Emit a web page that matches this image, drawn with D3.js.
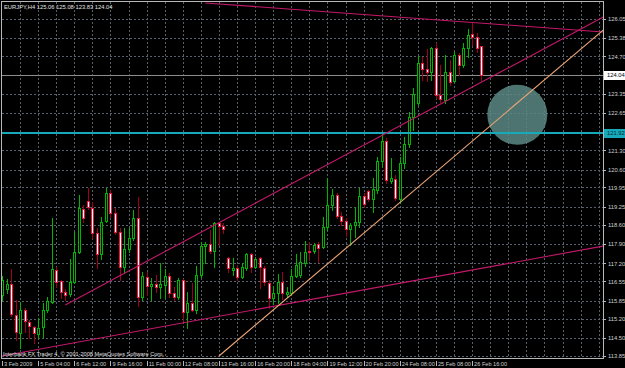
<!DOCTYPE html>
<html>
<head>
<meta charset="utf-8">
<script src="https://cdn.jsdelivr.net/npm/d3@7"></script>
<style>
  html, body { margin: 0; padding: 0; background: #000; }
  svg { display: block; font-family: "Liberation Sans", Arial, sans-serif; }
</style>
</head>
<body>
<svg id="chart"></svg>
<script>
const symbol = "EURJPY,H4";
const copyright = "Interbank FX Trader 4, \u00a9 2001-2008 MetaQuotes Software Corp.";

// H4 bars, oldest first
const opens = [116.06,116.28,116.46,115.34,114.69,115.52,115.08,114.90,114.65,114.90,
  115.52,115.81,116.97,116.57,116.17,116.10,116.53,117.62,119.17,119.46,
  119.21,118.31,117.55,118.74,119.75,119.03,118.34,117.07,117.73,118.12,
  118.85,115.99,116.71,116.39,116.46,116.35,116.42,116.75,116.13,115.99,
  116.60,115.45,115.77,115.52,116.79,117.83,117.91,117.65,118.67,118.56,
  117.40,116.97,117.04,116.71,117.04,117.55,117.07,117.40,117.04,116.50,
  115.95,116.13,116.53,116.10,116.13,116.75,116.79,117.22,117.65,117.65,
  117.91,117.80,118.52,119.32,119.68,118.92,118.74,118.45,118.60,118.70,
  119.65,119.83,119.54,119.86,120.91,121.64,120.19,120.26,119.54,120.84,
  121.53,122.50,123.01,124.46,124.24,124.13,125.00,123.30,123.12,124.13,
  123.81,124.75,124.39,125.00,125.51,125.40,125.06];
const highs = [116.75,116.64,117.00,115.88,115.81,115.59,115.16,114.94,115.23,115.77,
  115.99,118.85,117.07,116.60,116.28,117.36,118.34,119.68,119.32,119.93,
  119.43,118.49,118.89,119.93,119.86,119.21,118.49,118.49,118.49,119.14,
  119.61,116.89,116.89,116.68,116.79,117.22,117.00,116.86,116.35,116.68,
  116.64,116.17,116.50,117.11,117.98,117.98,118.41,118.70,118.70,118.67,
  117.44,117.40,117.15,117.22,117.58,117.58,117.44,117.44,117.11,116.60,
  116.39,116.82,116.89,116.35,117.00,117.55,117.62,118.02,117.98,117.94,
  117.98,118.89,120.30,119.90,119.75,119.07,118.85,118.67,119.25,119.93,
  119.75,119.86,120.30,121.06,121.92,121.74,121.02,120.41,121.06,121.78,
  122.69,123.55,124.71,124.68,124.97,125.04,125.18,124.39,124.75,124.57,
  124.86,124.82,125.18,125.69,125.94,125.55,125.08];
const lows = [115.88,116.13,115.30,114.43,114.14,114.72,114.50,114.32,114.50,114.54,
  115.45,115.77,116.35,115.95,115.88,116.02,116.50,117.58,118.70,119.17,
  118.12,117.04,117.36,118.70,118.89,118.27,116.60,116.89,117.62,118.05,
  115.66,115.88,116.06,115.88,116.17,115.95,115.95,115.99,115.88,115.92,
  115.12,114.87,115.48,115.41,116.71,117.22,117.58,117.07,117.87,118.31,
  116.89,116.79,116.60,116.68,116.97,116.89,117.04,116.31,116.42,115.59,
  115.74,115.77,115.92,115.99,116.06,116.71,116.71,117.11,117.33,117.58,
  117.26,117.76,118.41,119.14,118.85,118.60,118.20,117.87,118.16,118.52,
  119.25,119.46,119.07,119.75,120.69,120.12,120.12,119.50,119.39,120.66,
  121.42,122.03,122.94,123.84,123.81,123.84,123.19,123.05,123.01,123.66,
  123.77,124.02,124.31,124.68,125.11,124.86,123.83];
const closes = [116.60,116.46,115.37,114.72,115.52,115.12,114.94,114.69,114.87,115.52,
  115.84,117.00,116.53,116.17,116.06,116.53,117.62,119.21,118.85,119.25,
  118.31,117.55,118.70,119.75,119.03,118.34,117.07,117.73,118.12,118.85,
  115.99,116.75,116.39,116.46,116.35,116.46,116.75,116.13,115.99,116.60,
  115.45,115.77,115.52,116.79,117.83,117.91,117.65,118.67,118.56,118.45,
  117.04,117.04,116.71,117.07,117.55,117.07,117.36,117.07,116.53,115.95,
  116.13,116.53,116.13,116.17,116.75,117.15,117.26,117.62,117.62,117.87,
  117.76,118.52,119.32,119.68,118.92,118.74,118.45,118.60,118.70,119.65,
  119.36,119.54,119.90,120.91,121.64,120.22,120.30,119.57,120.84,121.53,
  122.50,123.34,124.46,124.24,124.13,125.00,123.30,123.16,124.13,123.77,
  124.75,124.39,125.00,125.47,125.40,125.00,124.04];

// time axis labels and the bar each one sits on
const timeLabels = ["3 Feb 2009","5 Feb 04:00","6 Feb 12:00","9 Feb 16:00","11 Feb 00:00",
  "12 Feb 08:00","13 Feb 16:00","16 Feb 20:00","18 Feb 04:00","19 Feb 12:00",
  "20 Feb 20:00","24 Feb 08:00","25 Feb 08:00","26 Feb 16:00"];
const timeLabelBars = [0,8,16,24,32,40,48,56,64,72,80,88,96,104];

const priceTicks = [126.05,125.38,124.70,123.35,122.65,121.30,120.60,119.95,119.25,
  118.60,117.90,117.20,116.55,115.85,115.20,114.50,113.85];

const bidPrice = 124.04;
const levelPrice = 121.92;

// trend lines as [bar, price] anchor pairs
const channelTop = [[45, 126.63], [133, 125.58]];
const channelUpper = [[14, 115.70], [133, 126.12]];
const channelLower = [[0, 113.85], [133, 117.83]];
const supportLine = [[48, 113.85], [133, 125.65]];
const ellipseCenter = [114, 122.58];

const layout = {
  width: 625, height: 368,
  left: 2, right: 603, top: 2, bottom: 358,
  lastBar: 133,
  barUp: "#00b400", barDown: "#e8183c", wickDown: "#a0001e",
  level: "#17a9ba",
};

const bars = opens.map((o, i) => ({ i, o, h: highs[i], l: lows[i], c: closes[i] }));

const svg = d3.select("#chart").attr("width", layout.width).attr("height", layout.height);
svg.append("rect").attr("width", layout.width).attr("height", layout.height).attr("fill", "#000");

const x = d3.scaleLinear().domain([0, layout.lastBar]).range([2, 603.2]);
const y = d3.scaleLinear().domain([113.85, 126.05]).range([356, 19]);
const px = (v) => Math.round(v) + 0.5;

svg.append("clipPath").attr("id", "plot-clip")
  .append("rect").attr("x", layout.left).attr("y", layout.top)
  .attr("width", layout.right - layout.left).attr("height", layout.bottom - layout.top);

// grid
const grid = svg.append("g").attr("stroke", "#56606a").attr("stroke-dasharray", "2,2")
  .attr("shape-rendering", "crispEdges");
grid.selectAll("line.v").data(d3.range(4, layout.lastBar, 4)).join("line")
  .attr("class", "v")
  .attr("x1", (d) => px(x(d))).attr("x2", (d) => px(x(d)))
  .attr("y1", layout.top).attr("y2", layout.bottom);
grid.selectAll("line.h").data(priceTicks).join("line")
  .attr("class", "h")
  .attr("x1", layout.left).attr("x2", layout.right)
  .attr("y1", (d) => px(y(d))).attr("y2", (d) => px(y(d)));

// bid line
svg.append("line").attr("x1", layout.left).attr("x2", layout.right)
  .attr("y1", px(y(bidPrice))).attr("y2", px(y(bidPrice)))
  .attr("stroke", "#8c8c8c").attr("shape-rendering", "crispEdges");

// candles
const candles = svg.append("g").attr("shape-rendering", "crispEdges");
candles.selectAll("line.wick").data(bars).join("line")
  .attr("class", "wick")
  .attr("x1", (d) => px(x(d.i))).attr("x2", (d) => px(x(d.i)))
  .attr("y1", (d) => Math.round(y(d.h))).attr("y2", (d) => Math.round(y(d.l)) + 1)
  .attr("stroke", (d) => (d.c >= d.o ? layout.barUp : layout.wickDown));
candles.selectAll("rect.body").data(bars).join("rect")
  .attr("class", "body")
  .attr("x", (d) => Math.round(x(d.i)) - 0.5)
  .attr("width", 2)
  .attr("y", (d) => Math.round(y(Math.max(d.o, d.c))) + 0.5)
  .attr("height", (d) => Math.max(0.01, Math.round(y(Math.min(d.o, d.c))) - Math.round(y(Math.max(d.o, d.c)))))
  .attr("fill", (d) => (d.c >= d.o ? "#000" : "#fff"))
  .attr("stroke", (d) => (d.c >= d.o ? layout.barUp : layout.barDown));

// objects on top
const objects = svg.append("g").attr("clip-path", "url(#plot-clip)");
objects.append("circle")
  .attr("cx", x(ellipseCenter[0])).attr("cy", y(ellipseCenter[1])).attr("r", 30)
  .attr("fill", "#5b8884").attr("fill-opacity", 0.85);
objects.append("line").attr("x1", layout.left).attr("x2", layout.right)
  .attr("y1", Math.round(y(levelPrice))).attr("y2", Math.round(y(levelPrice)))
  .attr("stroke", layout.level).attr("stroke-width", 2).attr("shape-rendering", "crispEdges");

const trend = d3.line().x((d) => x(d[0])).y((d) => y(d[1]));
objects.selectAll("path.trend")
  .data([
    { pts: channelTop, color: "#c4186a" },
    { pts: channelUpper, color: "#c4186a" },
    { pts: channelLower, color: "#c4186a" },
    { pts: supportLine, color: "#eea676" },
  ])
  .join("path")
  .attr("class", "trend")
  .attr("d", (d) => trend(d.pts))
  .attr("fill", "none")
  .attr("stroke", (d) => d.color)
  .attr("stroke-width", 1.1);

// frame and axes
const frame = svg.append("g").attr("stroke", "#b8b8b8").attr("shape-rendering", "crispEdges");
frame.append("line").attr("x1", 1).attr("x2", layout.right).attr("y1", 1.5).attr("y2", 1.5);
frame.append("line").attr("x1", 1.5).attr("x2", 1.5).attr("y1", 1).attr("y2", layout.bottom);
frame.append("line").attr("x1", px(layout.right)).attr("x2", px(layout.right)).attr("y1", 1).attr("y2", layout.bottom + 1);
frame.append("line").attr("x1", 1).attr("x2", layout.right + 1).attr("y1", px(layout.bottom)).attr("y2", px(layout.bottom));

// price scale
const priceAxis = svg.append("g").attr("font-size", "5.8px").attr("fill", "#cfcfcf");
priceAxis.selectAll("line").data(priceTicks).join("line")
  .attr("x1", layout.right).attr("x2", layout.right + 3)
  .attr("y1", (d) => px(y(d))).attr("y2", (d) => px(y(d)))
  .attr("stroke", "#b8b8b8").attr("shape-rendering", "crispEdges");
priceAxis.selectAll("text").data(priceTicks).join("text")
  .attr("x", layout.right + 5).attr("y", (d) => y(d) + 2.3)
  .text((d) => d.toFixed(2));

const marker = (price, bg, fg) => {
  const g = svg.append("g");
  g.append("rect").attr("x", layout.right + 1).attr("y", Math.round(y(price)) - 4)
    .attr("width", layout.width - layout.right - 1).attr("height", 9).attr("fill", bg);
  g.append("text").attr("x", layout.right + 4).attr("y", y(price) + 2.3)
    .attr("font-size", "5.8px").attr("fill", fg).text(price.toFixed(2));
};
marker(bidPrice, "#ffffff", "#000");
marker(levelPrice, layout.level, "#002a30");

// time scale
const timeAxis = svg.append("g").attr("font-size", "5.6px").attr("fill", "#cfcfcf");
timeAxis.selectAll("line").data(timeLabelBars).join("line")
  .attr("x1", (d) => px(x(d))).attr("x2", (d) => px(x(d)))
  .attr("y1", layout.bottom + 3).attr("y2", layout.bottom + 8)
  .attr("stroke", "#b8b8b8").attr("shape-rendering", "crispEdges");
timeAxis.selectAll("text").data(timeLabelBars).join("text")
  .attr("x", (d) => x(d) + 2).attr("y", layout.bottom + 8)
  .text((d, i) => timeLabels[i]);

// header and footer texts
const last = bars[bars.length - 1];
svg.append("text").attr("x", 4).attr("y", 9).attr("font-size", "5.8px").attr("fill", "#e0e0e0")
  .text(`${symbol}  ${last.o.toFixed(2)} ${last.h.toFixed(2)} ${last.l.toFixed(2)} ${last.c.toFixed(2)}`);
svg.append("text").attr("x", 3).attr("y", 355.5).attr("font-size", "5.6px").attr("fill", "#e0e0e0")
  .text(copyright);
</script>
</body>
</html>
